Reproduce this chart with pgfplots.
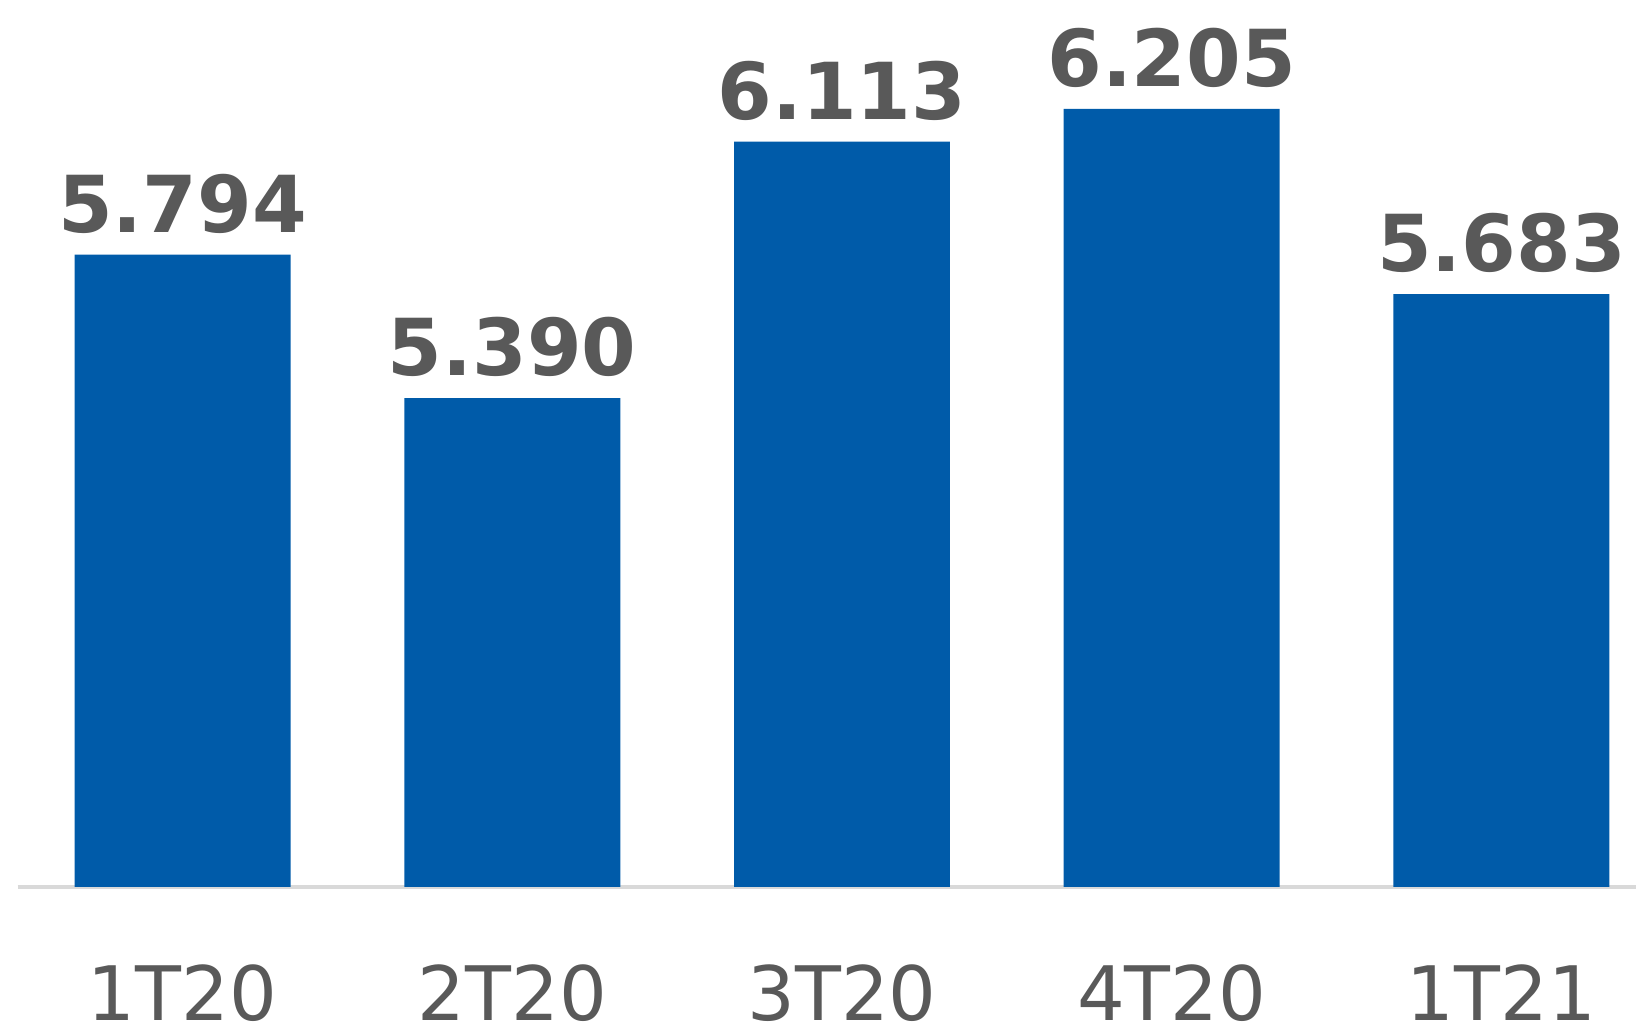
\documentclass[border=0pt]{standalone}
\usepackage{pgfplots}
\pgfplotsset{compat=1.18}
\usepackage{pgfplotstable}
\usepackage{fontspec}
\setmainfont{DejaVu Sans}
\usetikzlibrary{calc}

\definecolor{barblue}{HTML}{005BA9}
\definecolor{txtgray}{HTML}{595959}
\definecolor{axgray}{HTML}{D9D9D9}

\pgfplotstableread{
x y lab
0 5.794 5.794
1 5.390 5.390
2 6.113 6.113
3 6.205 6.205
4 5.683 5.683
}\quarters

\begin{document}
\begin{tikzpicture}
  \begin{axis}[
    name=ax,
    scale only axis,
    width=474pt, height=255pt,
    xmin=-0.5, xmax=4.5,
    ymin=4.012, ymax=6.512,
    axis x line=bottom,
    axis y line=none,
    x axis line style={axgray, line width=1.2pt, -},
    xtick=data,
    xticklabels={1T20,2T20,3T20,4T20,1T21},
    major tick length=0pt,
    xticklabel style={font=\fontsize{21.6}{25}\selectfont, text=txtgray, anchor=base, yshift=-38.4pt},
    clip=false,
    ybar, bar width=0.655,
    nodes near coords,
    point meta=explicit symbolic,
    nodes near coords style={font=\fontsize{22.6}{26}\selectfont\bfseries, text=txtgray, anchor=base, yshift=6.4pt, inner sep=0pt},
  ]
    \addplot[fill=barblue, draw=none] table[x=x, y=y, meta=lab] {\quarters};
  \end{axis}
  \pgfresetboundingbox
  \path[use as bounding box] ($(ax.south west)+(-5.1pt,-39pt)$) rectangle ($(ax.north west)+(465.3pt,0pt)$);
\end{tikzpicture}
\end{document}
